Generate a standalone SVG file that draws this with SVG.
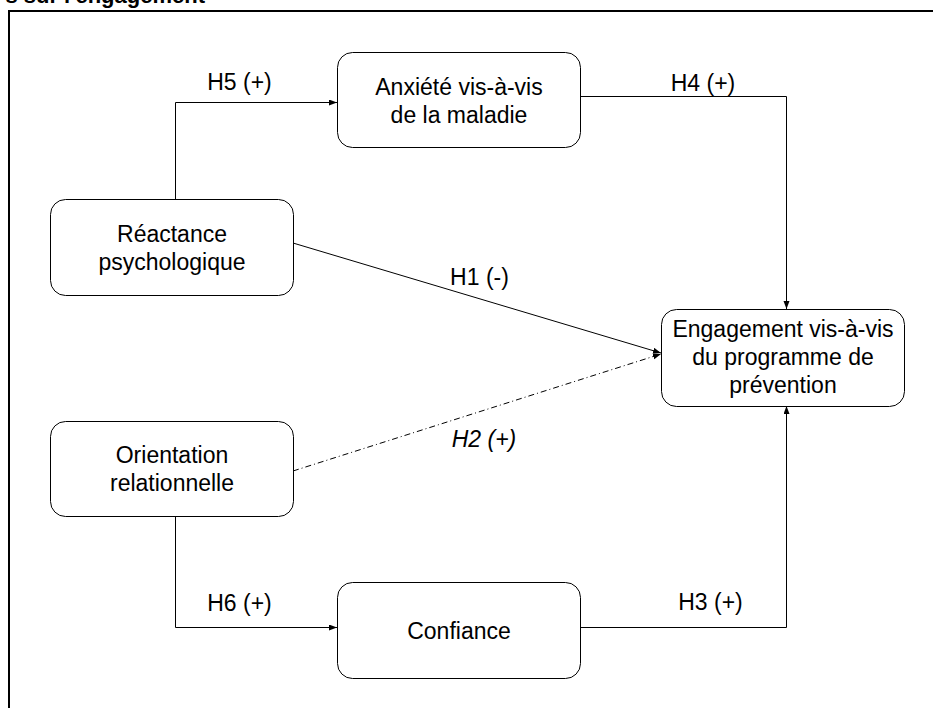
<svg xmlns="http://www.w3.org/2000/svg" width="933" height="708" viewBox="0 0 933 708">
<defs>
<style>
.box{fill:#fff;stroke:#000;stroke-width:1}
.t{font-family:"Liberation Sans",Arial,sans-serif;font-size:23px;fill:#000;text-anchor:middle}
.c{fill:none;stroke:#000;stroke-width:1}
.dd{stroke-dasharray:6 3 1 3}
</style>
<marker id="ah" markerUnits="userSpaceOnUse" markerWidth="9" markerHeight="7" refX="8" refY="3" orient="auto">
<path d="M0,0 L8,3 L0,6 z" fill="#000"/>
</marker>
</defs>
<rect width="933" height="708" fill="#fff"/>
<text x="205" y="3" font-family="Liberation Sans,Arial,sans-serif" font-size="22" font-weight="bold" text-anchor="end">s sur l'engagement</text>
<path d="M9,708 V11 H933" fill="none" stroke="#000" stroke-width="2"/>
<g id="connectors">
<path class="c" d="M175.5,199 V102.5 H337" marker-end="url(#ah)"/>
<path class="c" d="M581,96.5 H786.5 V309" marker-end="url(#ah)"/>
<path class="c" d="M293,243 L661,353" marker-end="url(#ah)"/>
<path class="c dd" d="M293,471 L661,354" marker-end="url(#ah)"/>
<path class="c" d="M175.5,516 V627.5 H337" marker-end="url(#ah)"/>
<path class="c" d="M581,627.5 H786.5 V406" marker-end="url(#ah)"/>
<text class="t" x="239.5" y="90">H5 (+)</text>
<text class="t" x="703" y="90.5">H4 (+)</text>
<text class="t" x="479.5" y="285">H1 (-)</text>
<text class="t" x="484" y="447" font-style="italic">H2 (+)</text>
<text class="t" x="239.5" y="611">H6 (+)</text>
<text class="t" x="710.5" y="610">H3 (+)</text>
</g>
<g id="anxiete">
<rect class="box" x="337.5" y="52.5" width="243" height="95" rx="15"/>
<text class="t" x="459" y="95">Anxiété vis-à-vis</text>
<text class="t" x="459" y="123">de la maladie</text>
</g>
<g id="reactance">
<rect class="box" x="50.5" y="199.5" width="243" height="96" rx="15"/>
<text class="t" x="172" y="242">Réactance</text>
<text class="t" x="172" y="270">psychologique</text>
</g>
<g id="orientation">
<rect class="box" x="50.5" y="421.5" width="243" height="95" rx="15"/>
<text class="t" x="172" y="463">Orientation</text>
<text class="t" x="172" y="491">relationnelle</text>
</g>
<g id="confiance">
<rect class="box" x="337.5" y="582.5" width="243" height="96" rx="15"/>
<text class="t" x="459" y="639">Confiance</text>
</g>
<g id="engagement">
<rect class="box" x="661.5" y="309.5" width="243" height="97" rx="15"/>
<text class="t" x="783" y="337">Engagement vis-à-vis</text>
<text class="t" x="783" y="365">du programme de</text>
<text class="t" x="783" y="393">prévention</text>
</g>
</svg>
